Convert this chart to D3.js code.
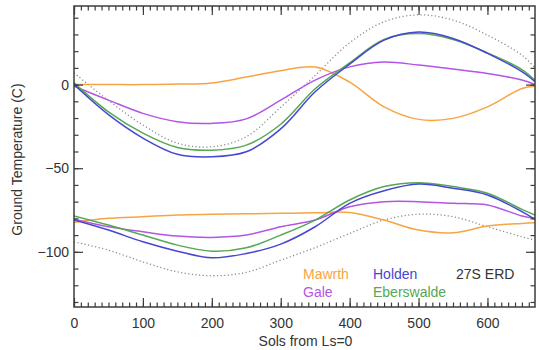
<!DOCTYPE html>
<html>
<head>
<meta charset="utf-8">
<script src="https://cdn.jsdelivr.net/npm/d3@7"></script>
<style>
  html, body { margin: 0; padding: 0; background: #fff; }
  svg { display: block; font-family: "Liberation Sans", Arial, Helvetica, sans-serif; }
</style>
</head>
<body>
<svg id="chart" width="539" height="350"></svg>
<script>
// ---- Data ----
const sols = [0, 50, 100, 150, 200, 250, 300, 350, 400, 450, 500, 550, 600, 650, 669];

// upper group
const mawrthHi = [0, 0, 0, 0.3, 1, 4.5, 8.3, 10.5, 1.5, -13.3, -20.8, -20.2, -13.3, -2.3, -1];
const galeHi   = [-1, -9.3, -17.2, -22.2, -23.2, -20.5, -9.3, 2.7, 10.6, 13.5, 11.7, 9.3, 6.7, 2.7, 0];
const holdenHi = [0, -18, -32, -41.7, -43.2, -40.2, -26.5, -4.3, 12.2, 26.6, 31.4, 27.6, 18.7, 7.7, 1.7];
const eberHi   = [1, -16.3, -29, -37.6, -39.2, -36.2, -23.7, -2.5, 13, 27, 30.5, 27, 19, 9, 2.5];
const erdHi    = [7, -9.5, -24.2, -35, -37.2, -31.2, -13.5, 5.5, 25, 37.6, 41.7, 38.6, 29.6, 17.6, 10];

// lower group
const mawrthLo = [-82.4, -80, -79, -78, -77.6, -77.3, -77, -76.7, -76.5, -81, -87, -88.6, -84.6, -83, -82.6];
const galeLo   = [-80.5, -85, -88, -90.6, -91.4, -90, -85, -81, -73, -70, -70, -71, -72, -78.6, -80];
const holdenLo = [-81, -87, -94, -99.6, -103.6, -101, -95.4, -85, -71, -63.5, -59.5, -62, -66, -76, -80.6];
const eberLo   = [-78.5, -84, -90, -96, -99.6, -97.6, -90, -81, -69, -61, -58.7, -61, -65, -74.6, -78];
const erdLo    = [-94, -99, -106, -112, -114.3, -112.3, -105, -97.5, -89, -81, -77.5, -79, -85, -91, -93];

const xMajorTicks = [0, 100, 200, 300, 400, 500, 600];
const yMajorTicks = [0, -50, -100];
const legendNames = ["Mawrth", "Holden", "27S ERD", "Gale", "Eberswalde"];

// ---- Layout ----
const svg = d3.select("#chart");
const L = 74, R = 535, T = 6, B = 307;
const x = d3.scaleLinear().domain([0, 669]).range([L, R]);
const y = d3.scaleLinear().domain([-133, 47]).range([B, T]);

const C = {
  Mawrth: "#f7a444",
  Gale: "#b455e6",
  Holden: "#4646d2",
  Eberswalde: "#55a855",
  ERD: "#8c8c8c",
  axis: "#3c3c3c",
  text: "#333"
};

// clip
svg.append("defs").append("clipPath").attr("id", "clip")
  .append("rect").attr("x", L).attr("y", T).attr("width", R - L).attr("height", B - T);

const line = d3.line()
  .x((d, i) => x(sols[i]))
  .y(d => y(d))
  .curve(d3.curveCatmullRom.alpha(0.5));

const g = svg.append("g").attr("clip-path", "url(#clip)");

const series = [
  { v: erdHi, c: C.ERD, dash: true },
  { v: erdLo, c: C.ERD, dash: true },
  { v: mawrthHi, c: C.Mawrth },
  { v: mawrthLo, c: C.Mawrth },
  { v: galeHi, c: C.Gale },
  { v: galeLo, c: C.Gale },
  { v: eberHi, c: C.Eberswalde },
  { v: eberLo, c: C.Eberswalde },
  { v: holdenHi, c: C.Holden },
  { v: holdenLo, c: C.Holden }
];

series.forEach(s => {
  g.append("path")
    .attr("d", line(s.v))
    .attr("fill", "none")
    .attr("stroke", s.c)
    .attr("stroke-width", s.dash ? 1.3 : 1.5)
    .attr("stroke-dasharray", s.dash ? "1.2,2.4" : null)
    .attr("stroke-linecap", "butt");
});

// ---- Axes ----
function styleAxis(sel) {
  sel.selectAll(".domain").remove();
  sel.selectAll(".tick line").attr("stroke", C.axis).attr("stroke-width", 1.2);
  sel.selectAll(".tick text").attr("fill", C.text).style("font-size", "14px");
}
const xMinor = d3.range(0, 670, 10);
const yMinor = d3.range(-130, 48, 10);

// bottom
svg.append("g").attr("transform", `translate(0,${B})`)
  .call(d3.axisBottom(x).tickValues(xMinor).tickSize(-4.5).tickFormat(""))
  .call(styleAxis);
svg.append("g").attr("transform", `translate(0,${B})`)
  .call(d3.axisBottom(x).tickValues(xMajorTicks).tickSize(-9).tickPadding(11).tickFormat(d3.format("d")))
  .call(styleAxis);
// top
svg.append("g").attr("transform", `translate(0,${T})`)
  .call(d3.axisTop(x).tickValues(xMinor).tickSize(-4.5).tickFormat(""))
  .call(styleAxis);
svg.append("g").attr("transform", `translate(0,${T})`)
  .call(d3.axisTop(x).tickValues(xMajorTicks).tickSize(-9).tickFormat(""))
  .call(styleAxis);
// left
svg.append("g").attr("transform", `translate(${L},0)`)
  .call(d3.axisLeft(y).tickValues(yMinor).tickSize(-4.5).tickFormat(""))
  .call(styleAxis);
svg.append("g").attr("transform", `translate(${L},0)`)
  .call(d3.axisLeft(y).tickValues(yMajorTicks).tickSize(-9).tickPadding(5).tickFormat(d3.format("d")))
  .call(styleAxis);
// right
svg.append("g").attr("transform", `translate(${R},0)`)
  .call(d3.axisRight(y).tickValues(yMinor).tickSize(-4.5).tickFormat(""))
  .call(styleAxis);
svg.append("g").attr("transform", `translate(${R},0)`)
  .call(d3.axisRight(y).tickValues(yMajorTicks).tickSize(-9).tickFormat(""))
  .call(styleAxis);

// frame
svg.append("rect")
  .attr("x", L).attr("y", T).attr("width", R - L).attr("height", B - T)
  .attr("fill", "none").attr("stroke", C.axis).attr("stroke-width", 1.5);

// axis titles
svg.append("text")
  .attr("x", (L + R) / 2 + 1).attr("y", 346)
  .attr("text-anchor", "middle").attr("fill", C.text)
  .style("font-size", "14px")
  .text("Sols from Ls=0");
svg.append("text")
  .attr("transform", `translate(22,${(T + B) / 2 + 3}) rotate(-90)`)
  .attr("text-anchor", "middle").attr("fill", C.text)
  .style("font-size", "14px")
  .text("Ground Temperature (C)");

// legend
const legendPos = [
  { name: legendNames[0], x: 303, y: 279, c: C.Mawrth },
  { name: legendNames[1], x: 373, y: 279, c: C.Holden },
  { name: legendNames[2], x: 456, y: 279, c: C.text },
  { name: legendNames[3], x: 303, y: 297, c: C.Gale },
  { name: legendNames[4], x: 373, y: 297, c: C.Eberswalde }
];
svg.append("g").selectAll("text").data(legendPos).join("text")
  .attr("x", d => d.x).attr("y", d => d.y)
  .attr("fill", d => d.c)
  .style("font-size", "14px")
  .text(d => d.name);
</script>
</body>
</html>
